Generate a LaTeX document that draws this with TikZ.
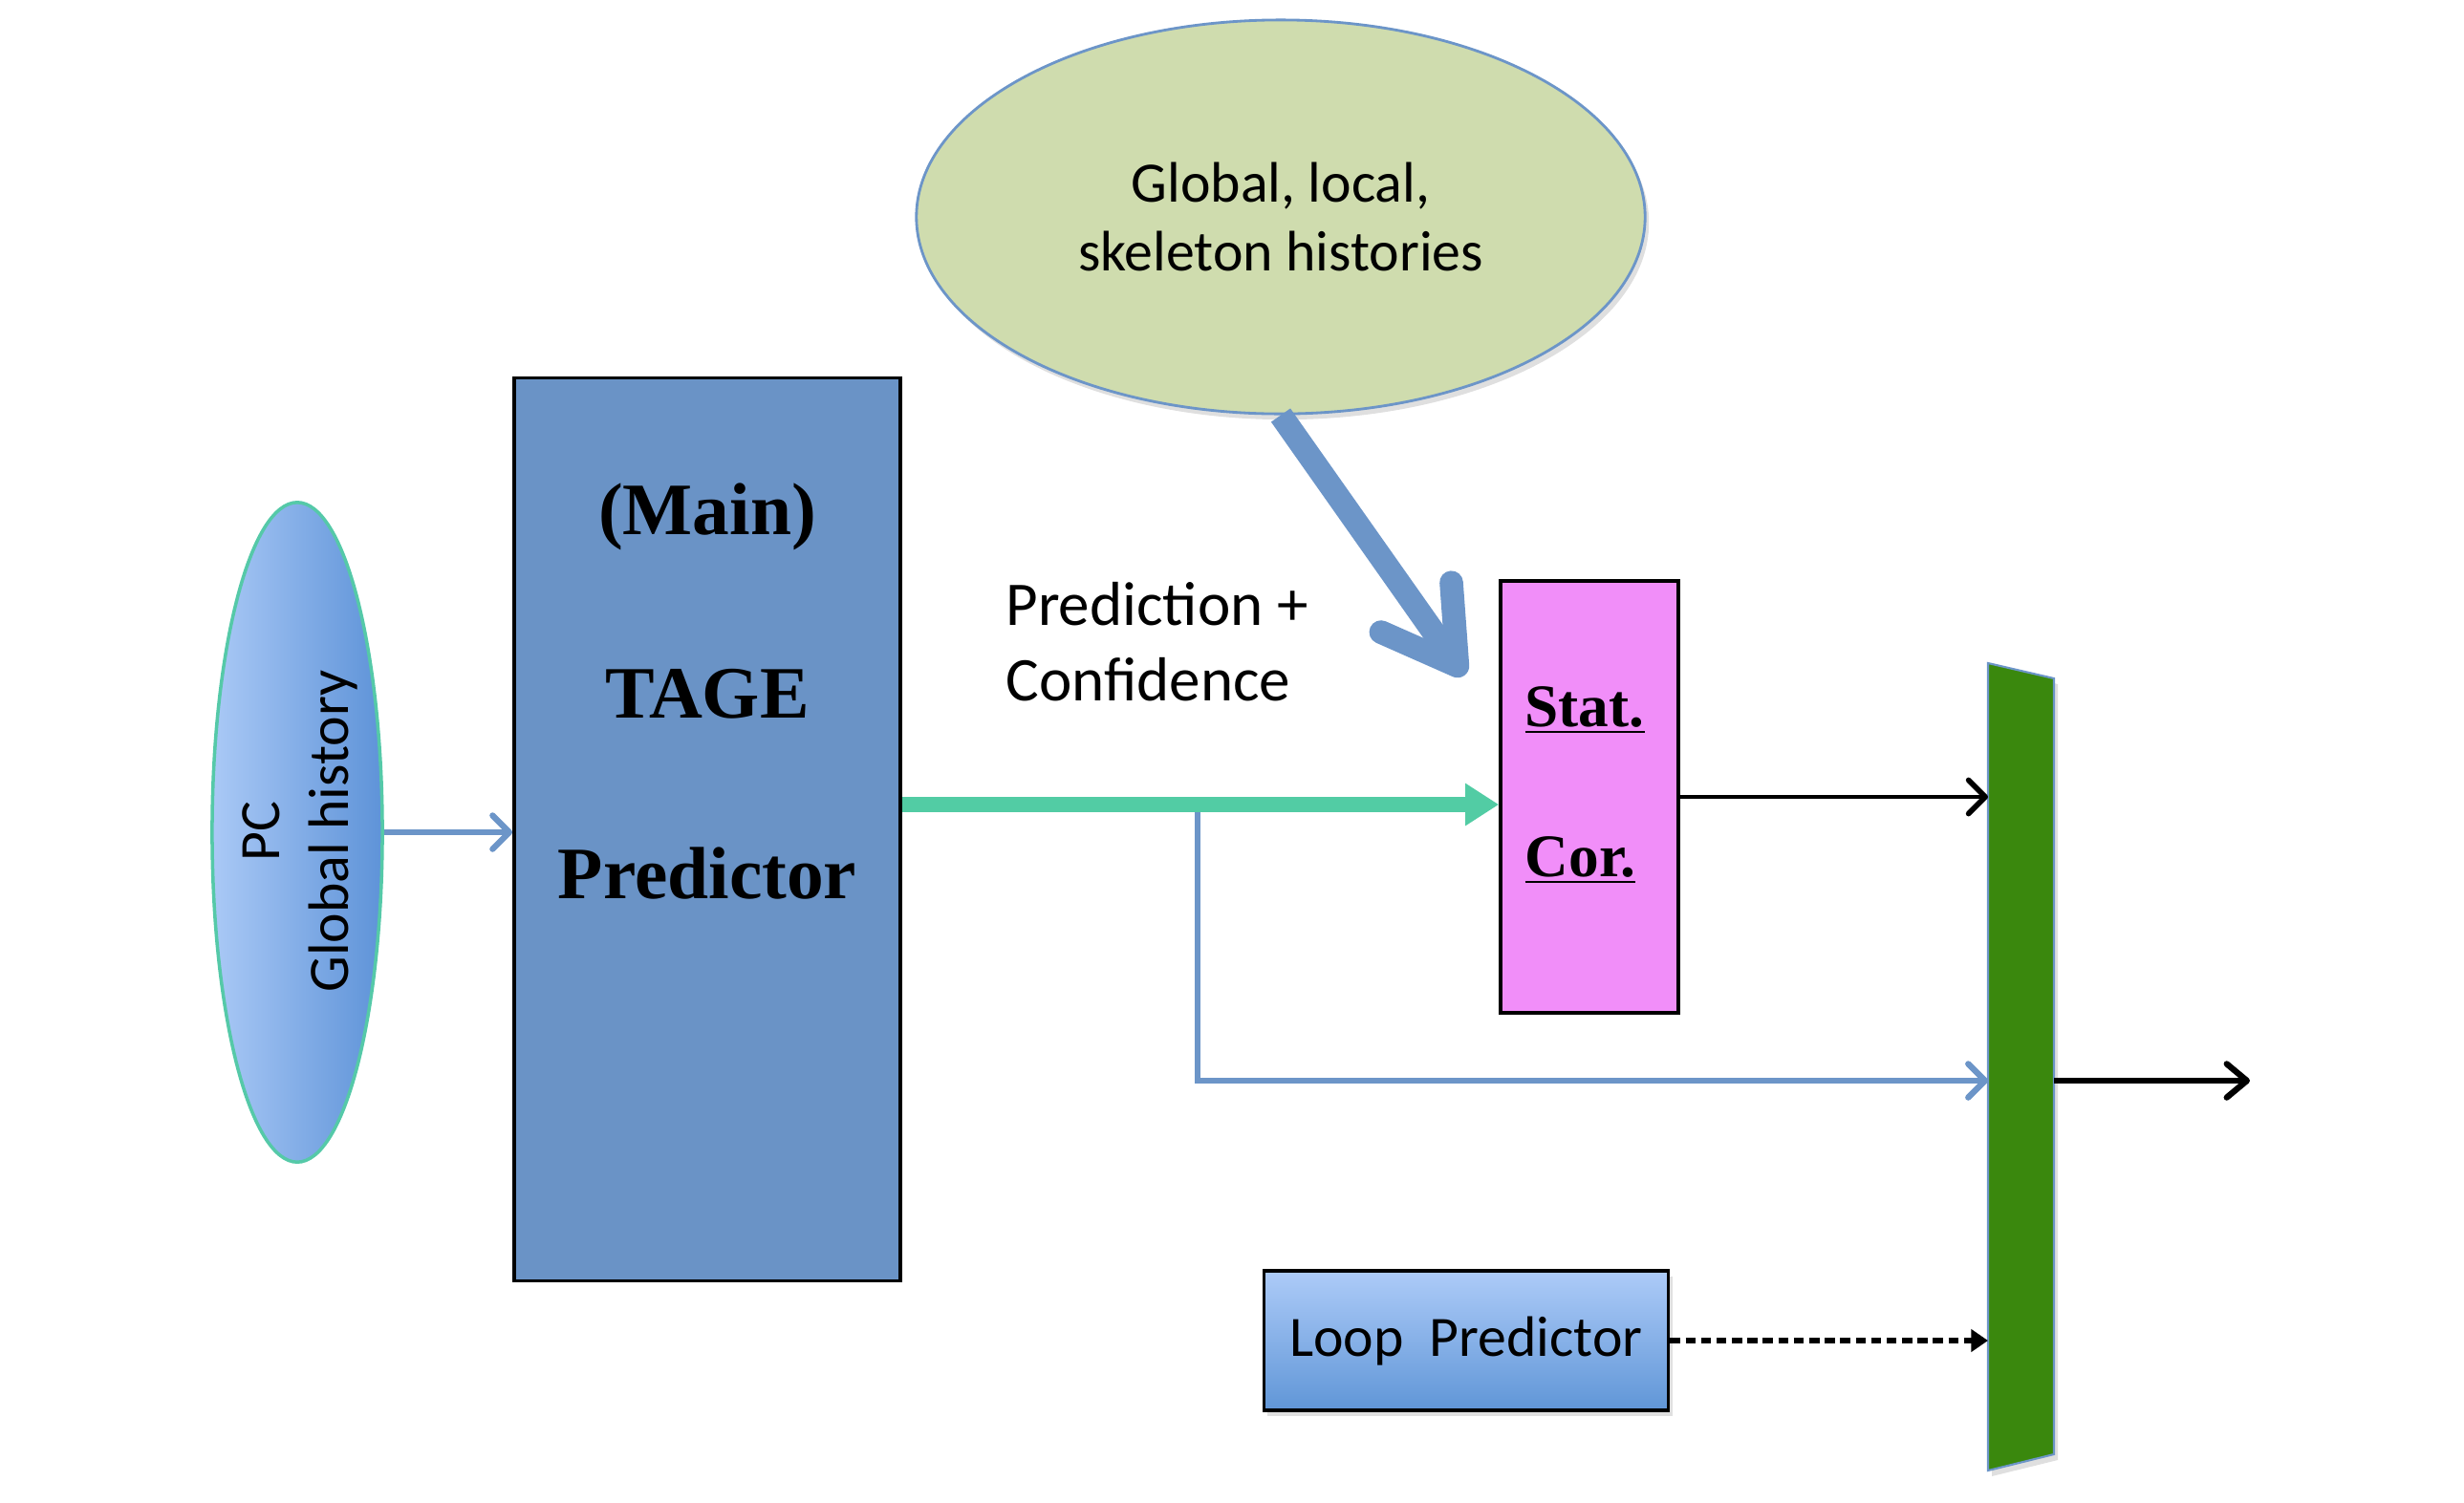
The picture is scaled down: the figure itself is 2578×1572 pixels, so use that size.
\documentclass[tikz,border=0pt]{standalone}
\usepackage{fontspec}
\setmainfont{Liberation Serif}
\newfontfamily\calfont{Carlito}
\usetikzlibrary{arrows.meta,shapes.geometric,shadows}
\definecolor{tageblue}{RGB}{106,147,198}
\definecolor{inplight}{RGB}{170,201,246}
\definecolor{inpdark}{RGB}{94,147,216}
\definecolor{inpedge}{RGB}{85,201,168}
\definecolor{bubblegreen}{RGB}{207,220,174}
\definecolor{linkblue}{RGB}{108,149,200}
\definecolor{statpink}{RGB}{241,142,249}
\definecolor{muxgreen}{RGB}{58,136,13}
\definecolor{loophi}{RGB}{173,203,248}
\definecolor{looplo}{RGB}{96,150,215}
\definecolor{predteal}{RGB}{82,204,164}

\begin{document}
\begin{tikzpicture}[x=0.01cm,y=-0.01cm,
  box/.style={draw=black,line width=1pt},
  txt/.style={font=\calfont\fontsize{17}{20.4}\selectfont},
  bigtxt/.style={font=\bfseries\fontsize{22}{26}\selectfont},
  corrtxt/.style={font=\bfseries\fontsize{18}{22}\selectfont,inner sep=0pt},
  softshadow/.style={drop shadow={opacity=0.25,shadow xshift=0.04cm,shadow yshift=-0.06cm}},
  linkarrow/.style={draw=linkblue,line width=1.8pt,-{Straight Barb[length=5pt,width=10pt,line width=1.8pt,round]}},
  predarrow/.style={draw=predteal,line width=4.5pt,-{Triangle[length=10pt,width=12pt]}},
  feedarrow/.style={draw=linkblue,line width=7pt,-{Straight Barb[length=0.75cm,width=0.9cm,round]}},
  thinarrow/.style={draw=black,line width=1pt,-{Straight Barb[length=5pt,width=10pt,line width=1.6pt,round]}},
  dasharrow/.style={draw=black,line width=1.5pt,dash pattern=on 3pt off 1.6pt,-{Triangle[length=5pt,width=6.5pt]}},
  outarrow/.style={draw=black,line width=1.6pt,-{Straight Barb[length=6pt,width=10pt,line width=1.8pt,round]}}]

\useasboundingbox (0,0) rectangle (2578,1572);

\node[ellipse,draw=inpedge,line width=1pt,left color=inplight,right color=inpdark,
  minimum width=1.78cm,minimum height=6.9cm] (inp) at (311,871) {};
\node[txt,rotate=90,align=center] (inptxt) at (314,870) {PC\\Global history};

\node[box,fill=tageblue,minimum width=4.04cm,minimum height=9.44cm] (tage) at (740,868) {};
\node[bigtxt,anchor=base] (tmain) at (740,559) {(Main)};
\node[bigtxt,anchor=base] (ttage) at (740,751) {TAGE};
\node[bigtxt,anchor=base] (tpred) at (740,940) {Predictor};

\node[ellipse,draw=linkblue,line width=0.8pt,fill=bubblegreen,softshadow,txt,align=center,
  minimum width=7.62cm,minimum height=4.12cm] (hists) at (1340,227) {Global, local,\\skeleton histories};

\node[txt,font=\calfont\fontsize{18.5}{22.5}\selectfont,align=left,anchor=west] (conf) at (1040,672) {Prediction +\\Confidence};

\node[box,fill=statpink,minimum width=1.86cm,minimum height=4.52cm] (stat) at (1663,834) {};
\node[corrtxt,anchor=base west] (tstat) at (1595,760) {\underline{Stat.}};
\node[corrtxt,anchor=base west] (tcor) at (1595,917) {\underline{Cor.}};

\coordinate (mtl) at (2080,694);
\coordinate (mtr) at (2149,710);
\coordinate (mbr) at (2149,1522);
\coordinate (mbl) at (2080,1539);
\filldraw[fill=muxgreen,draw=linkblue,line width=0.6pt,softshadow] (mtl) -- (mtr) -- (mbr) -- (mbl) -- cycle;

\node[box,top color=loophi,bottom color=looplo,softshadow,txt,text depth=0.5ex,
  minimum width=4.23cm,minimum height=1.46cm] (loop) at (1534,1403) {Loop~~Predictor};

\coordinate (split) at (1253,842);
\coordinate (feed) at (1532,707);
\coordinate (mout) at (2149,1131);
\coordinate (out) at (2354,1131);

\draw[linkarrow] (inp.east) -- (tage.west |- inp.east);
\draw[linkarrow] (split) |- (mtl |- mout);
\draw[predarrow] (tage.east |- split) -- (stat.west |- split);
\draw[feedarrow] (hists.south) -- (feed);
\draw[thinarrow] (stat.east) -- (mtl |- stat.east);
\draw[dasharrow] (loop.east) -- (mtl |- loop.east);
\draw[outarrow] (mout) -- (out);
\end{tikzpicture}
\end{document}
